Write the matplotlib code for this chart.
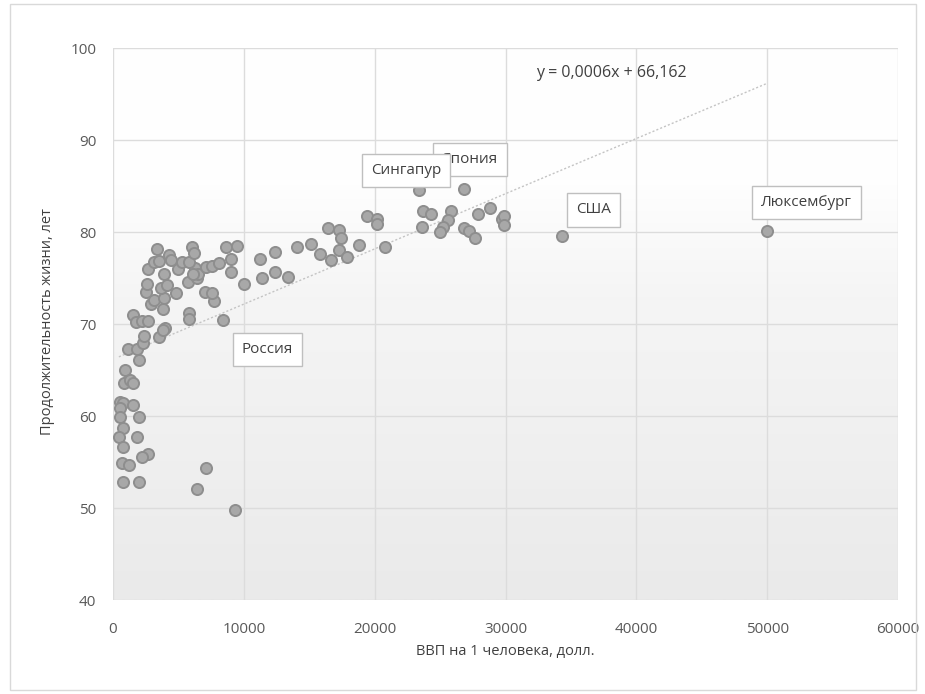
import numpy as np
import matplotlib
matplotlib.use("Agg")
import matplotlib.pyplot as plt
from matplotlib.colors import LinearSegmentedColormap
from matplotlib.patches import Rectangle

plt.rcParams['font.family'] = ['Open Sans', 'DejaVu Sans']

# GDP per capita (USD) and life expectancy (years)
gdp = [500, 800, 1500, 550, 550, 2000, 800, 450, 1800, 800,
       2700, 2200, 700, 1200, 7100, 800, 2000, 6400, 9300, 900,
       850, 1300, 1500, 2000, 1150, 1850, 2300, 2400, 3500, 4000,
       3800, 1550, 1750, 2200, 2700, 3800, 5800, 5800, 8400, 2900,
       3100, 3900, 7700, 2500, 3700, 4100, 4800, 7000, 7600, 2600,
       5700, 6400, 10000, 2700, 3900, 5000, 6300, 6500, 6100, 7100,
       7600, 8100, 9000, 9000, 3100, 3500, 5300, 5800, 4300, 4400,
       3400, 6000, 6200, 8600, 9500,
       11200, 11400, 12400, 12400, 13400, 14100, 15100, 15800, 16700, 16400,
       17300, 17400, 17300, 17900, 18800, 19400, 20200, 20200, 20800,
       23400, 26800, 23700, 24300, 25800, 25600, 23600, 25200, 25000, 26800,
       27200, 27700, 27900, 28800, 29700, 29900, 29900, 34300, 50000]
life = [61.5, 61.4, 61.2, 60.9, 59.9, 59.9, 58.7, 57.7, 57.7, 56.6,
        55.9, 55.5, 54.9, 54.7, 54.3, 52.8, 52.8, 52.1, 49.8, 65.0,
        63.6, 63.9, 63.6, 66.1, 67.3, 67.3, 67.9, 68.7, 68.6, 69.6,
        69.3, 71.0, 70.2, 70.3, 70.3, 71.6, 71.2, 70.5, 70.4, 72.2,
        72.6, 72.8, 72.5, 73.5, 73.9, 74.2, 73.4, 73.5, 73.4, 74.4,
        74.6, 75.0, 74.3, 76.0, 75.4, 76.0, 76.1, 75.4, 75.4, 76.2,
        76.3, 76.6, 77.1, 75.6, 76.7, 76.8, 76.7, 76.7, 77.5, 77.0,
        78.1, 78.4, 77.7, 78.4, 78.5,
        77.1, 75.0, 77.8, 75.6, 75.1, 78.4, 78.7, 77.6, 77.0, 80.4,
        80.2, 79.4, 78.0, 77.3, 78.6, 81.7, 81.4, 80.9, 78.4,
        84.6, 84.7, 82.3, 82.0, 82.3, 81.3, 80.5, 80.5, 80.0, 80.4,
        80.1, 79.4, 82.0, 82.6, 81.4, 81.7, 80.8, 79.6, 80.1]

# Trendline (as shown on chart)
trend_slope = 0.0006
trend_intercept = 66.162
equation_text = "y = 0,0006x + 66,162"

# Labelled countries: name, label centre (x, y)
label_names = ["Япония", "Сингапур", "США", "Люксембург", "Россия"]
label_x = [27300, 22400, 36700, 53000, 11800]
label_y = [87.9, 86.7, 82.4, 83.2, 67.2]

x_ticks = [0, 10000, 20000, 30000, 40000, 50000, 60000]
y_ticks = [40, 50, 60, 70, 80, 90, 100]
x_label = "ВВП на 1 человека, долл."
y_label = "Продолжительность жизни, лет"

W, H = 925, 694
fig = plt.figure(figsize=(W / 100, H / 100), dpi=100)
ax = fig.add_axes([113 / W, 1 - 600 / H, (898 - 113) / W, (600 - 48) / H])

ax.set_xlim(0, 60000)
ax.set_ylim(40, 100)

# gradient background
cmap = LinearSegmentedColormap.from_list(
    "bg", [(0.0, "#eaeaea"), (0.55, "#f5f5f5"), (0.75, "#fefefe"), (1.0, "#ffffff")])
grad = np.linspace(0, 1, 256).reshape(-1, 1)
ax.imshow(grad, extent=[0, 60000, 40, 100], origin="lower", aspect="auto",
          cmap=cmap, zorder=0, interpolation="bilinear")

for s in ax.spines.values():
    s.set_visible(False)
ax.set_xticks(x_ticks)
ax.set_yticks(y_ticks)
ax.set_xticklabels([str(t) for t in x_ticks])
ax.set_yticklabels([str(t) for t in y_ticks])
ax.tick_params(length=0, labelsize=11, labelcolor="#595959")
ax.tick_params(axis="x", pad=16)
ax.tick_params(axis="y", pad=12)
ax.grid(True, color="#dcdcdc", linewidth=1.0, zorder=1)
ax.set_axisbelow(True)

# trendline
xt = np.array([min(gdp), max(gdp)])
ax.plot(xt, trend_slope * xt + trend_intercept, linestyle=(0, (1.5, 1.5)),
        color="#c4c4c4", linewidth=1.0, zorder=2)

ax.scatter(gdp, life, s=64, facecolor="#a8a8a8", edgecolor="#8e8e8e",
           linewidth=1.4, zorder=3)

ax.text(32300, 97.3, equation_text, fontsize=11.5, color="#404040",
        ha="left", va="center", zorder=5)

for i, (name, lx, ly) in enumerate(zip(label_names, label_x, label_y)):
    ax.text(lx, ly, name, fontsize=11, color="#404040", ha="center", va="center",
            zorder=6 + i,
            bbox=dict(boxstyle="square,pad=0.6", facecolor="white",
                      edgecolor="#bfbfbf", linewidth=1.0))

fig.text(48 / W, 1 - 322 / H, y_label, rotation=90, ha="center", va="center",
         fontsize=10.5, color="#404040")
fig.text(505 / W, 1 - 651 / H, x_label, ha="center", va="center",
         fontsize=10.5, color="#404040")

fig.patches.append(Rectangle((10 / W, 4 / H), (916 - 10) / W, (690 - 4) / H,
                             transform=fig.transFigure, fill=False,
                             edgecolor="#d9d9d9", linewidth=1.0))

fig.savefig("out.png", dpi=100)
